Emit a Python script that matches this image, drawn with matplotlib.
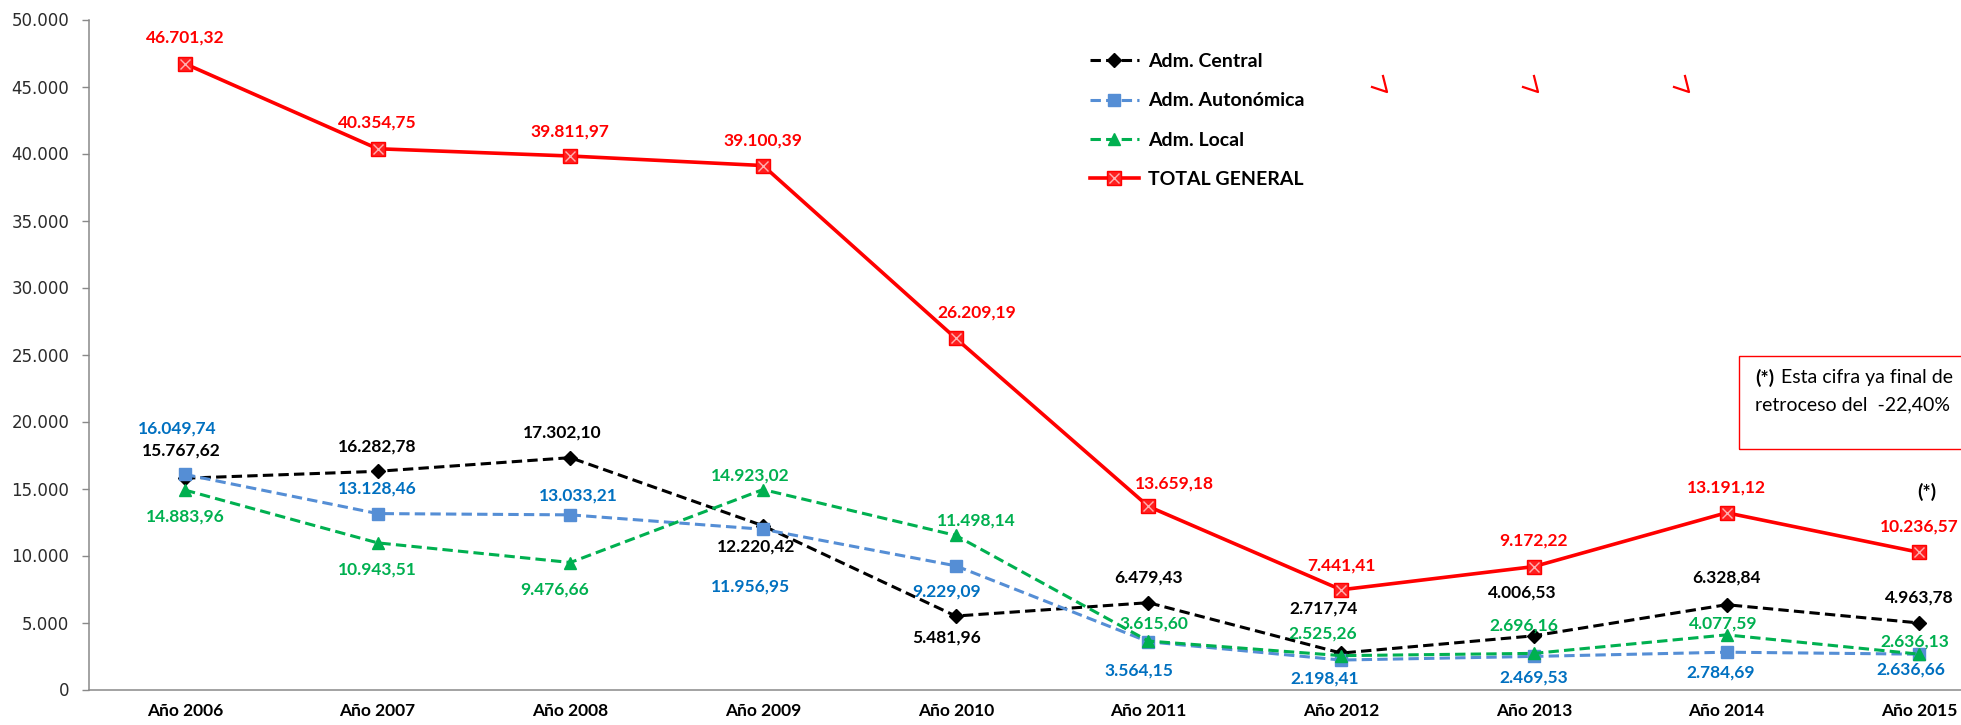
import matplotlib
matplotlib.use('Agg')
import matplotlib.pyplot as plt
from matplotlib.lines import Line2D
from matplotlib.patches import Rectangle
from matplotlib.ticker import FuncFormatter

plt.rcParams['font.family'] = ['Lato', 'DejaVu Sans']

years = ['Año 2006', 'Año 2007', 'Año 2008', 'Año 2009', 'Año 2010',
         'Año 2011', 'Año 2012', 'Año 2013', 'Año 2014', 'Año 2015']

adm_central = [15767.62, 16282.78, 17302.10, 12220.42, 5481.96,
               6479.43, 2717.74, 4006.53, 6328.84, 4963.78]
adm_autonomica = [16049.74, 13128.46, 13033.21, 11956.95, 9229.09,
                  3564.15, 2198.41, 2469.53, 2784.69, 2636.66]
adm_local = [14883.96, 10943.51, 9476.66, 14923.02, 11498.14,
             3615.60, 2525.26, 2696.16, 4077.59, 2636.13]
total_general = [46701.32, 40354.75, 39811.97, 39100.39, 26209.19,
                 13659.18, 7441.41, 9172.22, 13191.12, 10236.57]

# label offsets in pixels (dx, dy), as the labels were moved by hand in the original
off_central = [(-4, 28), (0, 25), (-8, 25), (-7, -21), (-9, -21),
               (0, 25), (-18, 45), (-12, 43), (0, 27), (0, 25)]
off_auto = [(-8, 46), (0, 25), (8, 19), (-13, -57), (-9, -26),
            (-10, -29), (-16, -18), (0, -21), (-6, -20), (-8, -15)]
off_local = [(0, -26), (0, -27), (-16, -27), (-13, 14), (21, 15),
             (5, 18), (-18, 22), (-10, 28), (-3, 11), (-4, 13)]
off_total = [(0, 26), (0, 26), (0, 25), (0, 25), (21, 26),
             (26, 23), (0, 24), (0, 26), (0, 25), (0, 26)]

W, H = 1961, 725


def fx(px):
    return px / W


def fy(py):
    return 1 - py / H


def es_num(v, dec=2):
    s = f'{v:,.{dec}f}'
    return s.replace(',', '#').replace('.', ',').replace('#', '.')


fig = plt.figure(figsize=(W / 100, H / 100), dpi=100)
ax = fig.add_axes([fx(88.6), fy(689.5), 1927 / W, 670 / H])

x = list(range(len(years)))

l_c, = ax.plot(x, adm_central, color='black', lw=2.2, ls='--', dashes=(3.4, 1.7),
               marker='D', ms=7, label='Adm. Central', zorder=3)
l_a, = ax.plot(x, adm_autonomica, color='#558ED5', lw=2.2, ls='--', dashes=(3.4, 1.7),
               marker='s', ms=8.5, label='Adm. Autonómica', zorder=3)
l_l, = ax.plot(x, adm_local, color='#00B050', lw=2.2, ls='--', dashes=(3.4, 1.7),
               marker='^', ms=9, label='Adm. Local', zorder=3)
l_t, = ax.plot(x, total_general, color='#FF0000', lw=2.6,
               marker='s', ms=9.5, mfc='#FF2020', mec='#FF0000', zorder=4)
l_tx, = ax.plot(x, total_general, ls='none', marker='x', ms=7, mew=1,
                color='#FFB0B0', zorder=5)

for vals, offs, col in [(adm_central, off_central, 'black'),
                        (adm_autonomica, off_auto, '#0070C0'),
                        (adm_local, off_local, '#00B050'),
                        (total_general, off_total, '#FF0000')]:
    for i, v in enumerate(vals):
        ax.annotate(es_num(v), (i, v), xytext=offs[i], textcoords='offset pixels',
                    ha='center', va='center', color=col, fontsize=12.5,
                    fontweight='bold', zorder=6)

ax.annotate('(*)', (9, total_general[9]), xytext=(8, 60), textcoords='offset pixels',
            ha='center', va='center', fontsize=14, fontweight='bold', color='black')

ax.set_xlim(-0.5, 9.5)
ax.set_ylim(0, 50000)
ax.set_yticks(range(0, 50001, 5000))
ax.yaxis.set_major_formatter(FuncFormatter(lambda v, p: '0' if v == 0 else es_num(v, 0)))
ax.set_xticks(x)
ax.set_xticklabels(years, fontsize=12.5, fontweight='bold')
ax.tick_params(axis='x', length=0, pad=10)
ax.tick_params(axis='y', length=5, width=1, color='#898989', pad=9,
               labelsize=12, labelcolor='#2b2b2b')
for lab in ax.get_yticklabels():
    lab.set_family('DejaVu Sans')

for s in ['top', 'right']:
    ax.spines[s].set_visible(False)
for s in ['left', 'bottom']:
    ax.spines[s].set_color('#898989')
    ax.spines[s].set_linewidth(1.1)

fig.legend([l_c, l_a, l_l, (l_t, l_tx)],
           ['Adm. Central', 'Adm. Autonómica', 'Adm. Local', 'TOTAL GENERAL'],
           loc='upper left', bbox_to_anchor=(fx(1090), fy(53)),
           frameon=False, borderpad=0, borderaxespad=0, handlelength=2.5,
           handletextpad=0.5, labelspacing=1.15, prop={'weight': 'bold', 'size': 14})

# small red ticks left over in the original picture
for tip in [1387, 1538, 1689]:
    fig.add_artist(Line2D([fx(tip - 4), fx(tip), fx(tip - 15)],
                          [fy(76), fy(92), fy(87)], color='#FF0000', lw=1.6))

# note box, cut at the right edge
fig.add_artist(Rectangle((fx(1739), fy(449)), fx(300), 93 / H, transform=fig.transFigure,
                         fill=False, edgecolor='#FF0000', lw=1))
fig.text(fx(1755), fy(378), '(*)', fontsize=14, fontweight='bold', va='center')
fig.text(fx(1781), fy(378), 'Esta cifra ya final de', fontsize=14, va='center')
fig.text(fx(1755), fy(405), 'retroceso del  -22,40%', fontsize=14, va='center')

fig.savefig('out.png', dpi=100)
